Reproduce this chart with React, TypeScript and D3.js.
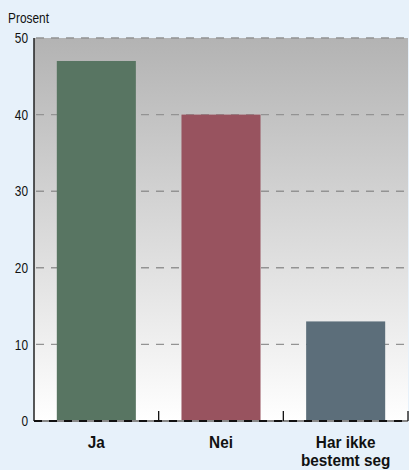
import React from "react";
import * as d3 from "d3";

const categories = ["Ja", "Nei", "Har ikke\nbestemt seg"];
const values = [47, 40, 13];
const barColors = ["#587562", "#98535f", "#5c6e7a"];
const yTicks = [0, 10, 20, 30, 40, 50];
const yLabel = "Prosent";

const W = 409;
const H = 470;
const M = { left: 34, right: 1, top: 38, bottom: 49 };

export default function App() {
  const x = d3
    .scaleBand<string>()
    .domain(categories)
    .range([M.left, W - M.right])
    .paddingInner(0.366)
    .paddingOuter(0.183);
  const y = d3.scaleLinear().domain([0, 50]).range([H - M.bottom, M.top]);
  const font = "'Liberation Sans', Arial, sans-serif";
  const sx = 0.82;
  const step = x.step();
  const x0 = M.left;
  const plotR = W - M.right;
  return (
    <svg
      width={W}
      height={H}
      style={{ position: "absolute", left: 0, top: 0, display: "block" }}
    >
      <defs>
        <linearGradient id="bg" x1="0" y1="0" x2="0" y2="1">
          <stop offset="0" stopColor="#b3b3b3" />
          <stop offset="1" stopColor="#ffffff" />
        </linearGradient>
      </defs>
      <rect x={0} y={0} width={W} height={H} fill="#e7f1fa" />
      <rect
        x={x0}
        y={y(50)}
        width={plotR - x0}
        height={y(0) - y(50)}
        fill="url(#bg)"
      />
      {yTicks.filter((t) => t > 0).map((t) => (
        <line
          key={t}
          x1={x0 + 2}
          x2={plotR}
          y1={y(t)}
          y2={y(t)}
          stroke="#939393"
          strokeWidth={1.4}
          strokeDasharray="8 7"
        />
      ))}
      {categories.map((c, i) => (
        <rect
          key={c}
          x={x(c)}
          y={y(values[i])}
          width={x.bandwidth()}
          height={y(0) - y(values[i])}
          fill={barColors[i]}
        />
      ))}
      <line x1={x0} x2={x0} y1={y(50)} y2={y(0)} stroke="#222" strokeWidth={1.5} />
      <line x1={x0} x2={plotR} y1={y(0)} y2={y(0)} stroke="#888" strokeWidth={2} />
      <line
        x1={x0}
        x2={plotR}
        y1={y(0)}
        y2={y(0)}
        stroke="#111"
        strokeWidth={2}
        strokeDasharray="8 7"
      />
      {categories.map((c, i) => (
        <line
          key={c}
          x1={x0 + step * (i + 1)}
          x2={x0 + step * (i + 1)}
          y1={y(0) - 10}
          y2={y(0)}
          stroke="#111"
          strokeWidth={1.3}
        />
      ))}
      {yTicks.map((t) => (
        <g key={t} transform={`translate(${x0 - 6},${y(t)}) scale(${sx},1)`}>
          <text
            dy="0.36em"
            textAnchor="end"
            fontFamily={font}
            fontSize={14.5}
            fill="#111"
          >
            {t}
          </text>
        </g>
      ))}
      <g transform={`translate(8,23) scale(${sx},1)`}>
        <text fontFamily={font} fontSize={14.5} fill="#111">
          {yLabel}
        </text>
      </g>
      {categories.map((c) => {
        const lines = c.split("\n");
        const cx = (x(c) as number) + x.bandwidth() / 2;
        return (
          <g key={c} transform={`translate(${cx},447.5) scale(0.93,1)`}>
            <text
              textAnchor="middle"
              fontFamily={font}
              fontSize={16.5}
              fontWeight="bold"
              fill="#111"
            >
              {lines.map((l, j) => (
                <tspan key={j} x={0} dy={j === 0 ? 0 : 18.7}>
                  {l}
                </tspan>
              ))}
            </text>
          </g>
        );
      })}
    </svg>
  );
}
